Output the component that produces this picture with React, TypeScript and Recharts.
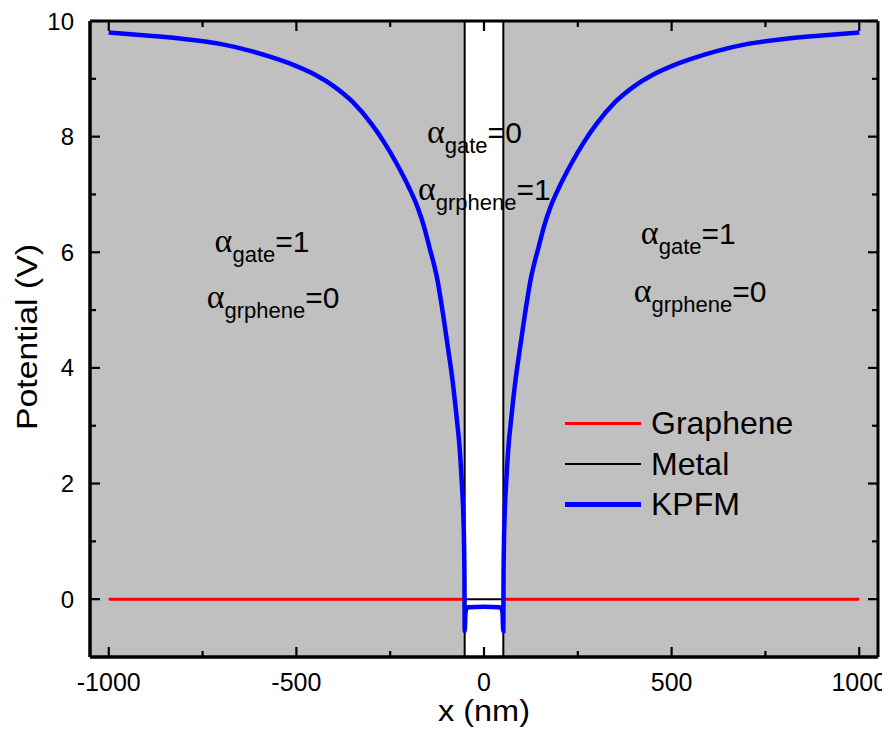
import React from 'react';
import { LineChart, Line, XAxis, YAxis, ReferenceArea, ReferenceLine, ReferenceDot, Legend } from 'recharts';

// ---- data ----
const xMajorTicks = [-1000, -500, 0, 500, 1000];
const xMinorTicks = [-750, -250, 250, 750];
const yMajorTicks = [0, 2, 4, 6, 8, 10];
const yMinorTicks = [1, 3, 5, 7, 9];
const xDomain = [-1050, 1050];
const yDomain = [-1, 10];

const boundaries = [-51.5, 51.5];

const kpfmX = [-1000, -900, -800, -700, -620, -550, -500, -450, -400, -350, -300, -266, -230, -200, -177, -160, -146, -125, -108, -95, -83, -73, -64.5, -59, -55, -53, -52, -51.5,
  -50.5, -49.5, -47, -42, 0, 42, 47, 49.5, 50.5,
  51.5, 52, 53, 55, 59, 64.5, 73, 83, 95, 108, 125, 146, 160, 177, 200, 230, 266, 300, 350, 400, 450, 500, 550, 620, 700, 800, 900, 1000];
const kpfmY = [9.8, 9.75, 9.69, 9.6, 9.48, 9.34, 9.22, 9.07, 8.87, 8.6, 8.22, 7.9, 7.5, 7.12, 6.78, 6.45, 6.1, 5.55, 4.88, 4.3, 3.74, 3.15, 2.58, 2.0, 1.45, 0.9, 0.3, -0.55,
  -0.45, -0.25, -0.17, -0.14, -0.13, -0.14, -0.17, -0.25, -0.45,
  -0.55, 0.3, 0.9, 1.45, 2.0, 2.58, 3.15, 3.74, 4.3, 4.88, 5.55, 6.1, 6.45, 6.78, 7.12, 7.5, 7.9, 8.22, 8.6, 8.87, 9.07, 9.22, 9.34, 9.48, 9.6, 9.69, 9.75, 9.8];

const grapheneX = [-1000, -51.5, 0, 51.5, 1000];
const grapheneY = [0, 0, null, 0, 0];

const metalX = [-51.5, 51.5];
const metalY = [0, 0];

const annotations = [
  { x: -718, y: 6.0, sub: 'gate', val: '1' },
  { x: -739, y: 5.03, sub: 'grphene', val: '0' },
  { x: -152, y: 7.89, sub: 'gate', val: '0' },
  { x: -176, y: 6.9, sub: 'grphene', val: '1' },
  { x: 418, y: 6.14, sub: 'gate', val: '1' },
  { x: 399, y: 5.14, sub: 'grphene', val: '0' },
];

const legendItems = [
  { name: 'Graphene', color: '#ff0000', width: 3 },
  { name: 'Metal', color: '#000000', width: 2 },
  { name: 'KPFM', color: '#0000ff', width: 5 },
];

const zip = (xs: number[], ys: (number | null)[]) => xs.map((x, i) => ({ x, y: ys[i] }));
const kpfmData = zip(kpfmX, kpfmY);
const grapheneData = zip(grapheneX, grapheneY);
const metalData = zip(metalX, metalY);

const FONT = '"Liberation Sans", Arial, sans-serif';
const W = 882;
const H = 722;

const BottomLabel = (p: any) => (
  <text x={p.x} y={p.y + 34} textAnchor="middle" fontFamily={FONT} fontSize={25} fill="#000">
    {p.payload.value}
  </text>
);

const LeftLabel = (p: any) => (
  <text x={p.x - 16} y={p.y + 8.5} textAnchor="end" fontFamily={FONT} fontSize={24} fill="#000">
    {p.payload.value}
  </text>
);

// inward tick marks drawn at both ends of a (otherwise invisible) reference line
const vTickShape = (len: number) => (p: any) => {
  const top = Math.min(p.y1, p.y2);
  const bot = Math.max(p.y1, p.y2);
  return (
    <g>
      <line x1={p.x1} x2={p.x1} y1={bot} y2={bot - len} stroke="#000" strokeWidth={2.2} />
      <line x1={p.x1} x2={p.x1} y1={top} y2={top + len} stroke="#000" strokeWidth={2.2} />
    </g>
  );
};
const hTickShape = (len: number) => (p: any) => {
  const left = Math.min(p.x1, p.x2);
  const right = Math.max(p.x1, p.x2);
  return (
    <g>
      <line x1={left} x2={left + len} y1={p.y1} y2={p.y1} stroke="#000" strokeWidth={2.2} />
      <line x1={right} x2={right - len} y1={p.y1} y2={p.y1} stroke="#000" strokeWidth={2.2} />
    </g>
  );
};

const AnnotationShape = (a: { sub: string; val: string }) => (p: any) => (
  <text x={p.cx} y={p.cy} fontFamily={FONT} fontSize={30} fill="#000">
    <tspan fontFamily='"Liberation Serif", "Times New Roman", serif' fontSize={34}>α</tspan>
    <tspan fontSize={22} dy={10}>{a.sub}</tspan>
    <tspan fontSize={30} dy={-10}>={a.val}</tspan>
  </text>
);

const LegendContent = () => (
  <div style={{ fontFamily: FONT, fontSize: 32, color: '#000' }}>
    {legendItems.map((it) => (
      <div key={it.name} style={{ height: 40.5, display: 'flex', alignItems: 'center' }}>
        <span style={{ display: 'inline-block', width: 76, height: 0, borderTop: `${it.width}px solid ${it.color}`, marginRight: 10 }} />
        <span style={{ lineHeight: '40.5px' }}>{it.name}</span>
      </div>
    ))}
  </div>
);

export default function App() {
  const axisLine = { stroke: '#000', strokeWidth: 3 };
  return (
    <LineChart width={W} height={H} margin={{ top: 13, right: 12, bottom: 0, left: 0 }}>
      <ReferenceArea x1={xDomain[0]} x2={boundaries[0]} y1={yDomain[0]} y2={yDomain[1]} fill="#c0c0c0" fillOpacity={1} stroke="none" />
      <ReferenceArea x1={boundaries[1]} x2={xDomain[1]} y1={yDomain[0]} y2={yDomain[1]} fill="#c0c0c0" fillOpacity={1} stroke="none" />
      {boundaries.map((b) => (
        <ReferenceLine key={'b' + b} x={b} stroke="#000" strokeWidth={2} />
      ))}
      <XAxis
        type="number"
        dataKey="x"
        domain={xDomain}
        ticks={xMajorTicks}
        interval={0}
        allowDataOverflow
        height={73}
        tickSize={0}
        tickMargin={0}
        tickLine={false}
        axisLine={axisLine}
        tick={BottomLabel}
        label={{
          content: (props: any) => {
            const vb = props.viewBox;
            return (
              <text x={vb.x + vb.width / 2} y={vb.y + 64} textAnchor="middle" fontFamily={FONT} fontSize={29}
                textLength={92} lengthAdjust="spacingAndGlyphs" fill="#000">
                x (nm)
              </text>
            );
          },
        }}
      />
      <YAxis
        type="number"
        domain={yDomain}
        ticks={yMajorTicks}
        interval={0}
        allowDataOverflow
        width={82}
        tickSize={0}
        tickMargin={0}
        tickLine={false}
        axisLine={axisLine}
        tick={LeftLabel}
        label={{
          content: (props: any) => {
            const vb = props.viewBox;
            const cx = 29;
            const cy = vb.y + vb.height / 2 - 2;
            return (
              <text x={cx} y={cy} transform={`rotate(-90, ${cx}, ${cy})`} textAnchor="middle" fontFamily={FONT} fontSize={29}
                textLength={186} lengthAdjust="spacingAndGlyphs" fill="#000">
                Potential (V)
              </text>
            );
          },
        }}
      />
      {/* frame */}
      {xDomain.map((v) => (
        <ReferenceLine key={'fx' + v} x={v} stroke="#000" strokeWidth={3} />
      ))}
      {yDomain.map((v) => (
        <ReferenceLine key={'fy' + v} y={v} stroke="#000" strokeWidth={3} />
      ))}
      {/* inward ticks on all four sides */}
      {xMajorTicks.map((v) => (
        <ReferenceLine key={'xM' + v} x={v} shape={vTickShape(10)} />
      ))}
      {xMinorTicks.map((v) => (
        <ReferenceLine key={'xm' + v} x={v} shape={vTickShape(6)} />
      ))}
      {yMajorTicks.map((v) => (
        <ReferenceLine key={'yM' + v} y={v} shape={hTickShape(10)} />
      ))}
      {yMinorTicks.map((v) => (
        <ReferenceLine key={'ym' + v} y={v} shape={hTickShape(6)} />
      ))}
      <Line data={grapheneData} dataKey="y" stroke="#ff0000" strokeWidth={3} dot={false} isAnimationActive={false} type="linear" />
      <Line data={metalData} dataKey="y" stroke="#000000" strokeWidth={2} dot={false} isAnimationActive={false} type="linear" />
      <Line data={kpfmData} dataKey="y" stroke="#0000ff" strokeWidth={4.5} dot={false} isAnimationActive={false} type="monotoneX" />
      {annotations.map((a, i) => (
        <ReferenceDot key={i} x={a.x} y={a.y} r={0} shape={AnnotationShape(a)} />
      ))}
      <Legend
        layout="vertical"
        align="center"
        verticalAlign="middle"
        wrapperStyle={{ left: 557, top: 395, width: 280 }}
        content={LegendContent}
      />
    </LineChart>
  );
}
